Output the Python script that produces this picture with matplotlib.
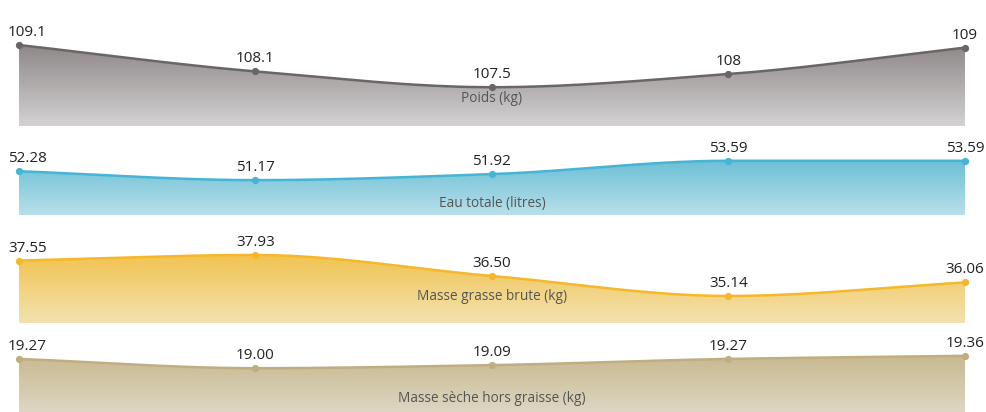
import numpy as np
import matplotlib
matplotlib.use("Agg")
import matplotlib.pyplot as plt
from matplotlib.colors import LinearSegmentedColormap
from matplotlib.patches import Polygon

# ---------------- data ----------------
visits = [0, 1, 2, 3, 4]
poids = [109.1, 108.1, 107.5, 108.0, 109.0]
poids_labels = ["109.1", "108.1", "107.5", "108", "109"]
eau = [52.28, 51.17, 51.92, 53.59, 53.59]
eau_labels = ["52.28", "51.17", "51.92", "53.59", "53.59"]
grasse = [37.55, 37.93, 36.50, 35.14, 36.06]
grasse_labels = ["37.55", "37.93", "36.50", "35.14", "36.06"]
seche = [19.27, 19.00, 19.09, 19.27, 19.36]
seche_labels = ["19.27", "19.00", "19.09", "19.27", "19.36"]
titles = ["Poids (kg)", "Eau totale (litres)",
          "Masse grasse brute (kg)", "Masse sèche hors graisse (kg)"]

# ---------------- style / layout ----------------
W, H = 986, 412
plt.rcParams['font.family'] = ['Open Sans', 'DejaVu Sans']

panels = [
    # values, labels, (top px, bottom px), ylim, line colour, fill top, fill bottom, title y frac
    (poids, poids_labels, (16, 126), (106.03, 110.20), "#6b6566", "#8e8889", "#d4d2d2", 0.215),
    (eau, eau_labels, (140, 215), (46.81, 56.185), "#46b5d3", "#6cc0d7", "#b8dfe9", 0.105),
    (grasse, grasse_labels, (235, 323), (33.30, 39.29), "#f6b82a", "#f1c350", "#f3e2b0", 0.26),
    (seche, seche_labels, (335, 412), (17.727, 19.965), "#bfae82", "#c8b990", "#ddd6c2", 0.13),
]


def monotone_cubic(x, y, n=300):
    x = np.asarray(x, float)
    y = np.asarray(y, float)
    h = np.diff(x)
    d = np.diff(y) / h
    m = np.zeros_like(y)
    m[0], m[-1] = d[0], d[-1]
    for i in range(1, len(y) - 1):
        if d[i - 1] * d[i] <= 0:
            m[i] = 0.0
        else:
            w1 = 2 * h[i] + h[i - 1]
            w2 = h[i] + 2 * h[i - 1]
            m[i] = (w1 + w2) / (w1 / d[i - 1] + w2 / d[i])
    xs = np.linspace(x[0], x[-1], n)
    ys = np.empty_like(xs)
    for k, xv in enumerate(xs):
        i = min(np.searchsorted(x, xv, side='right') - 1, len(x) - 2)
        t = (xv - x[i]) / h[i]
        h00 = 2 * t**3 - 3 * t**2 + 1
        h10 = t**3 - 2 * t**2 + t
        h01 = -2 * t**3 + 3 * t**2
        h11 = t**3 - t**2
        ys[k] = h00 * y[i] + h10 * h[i] * m[i] + h01 * y[i + 1] + h11 * h[i] * m[i + 1]
    return xs, ys


fig = plt.figure(figsize=(W / 100, H / 100), dpi=100)
left = 19 / W
width = (965 - 19) / W

for (vals, labs, (tp, bp), ylim, lc, ftop, fbot, ty), title in zip(panels, titles):
    ax = fig.add_axes([left, 1 - bp / H, width, (bp - tp) / H])
    ax.set_xlim(visits[0], visits[-1])
    ax.set_ylim(*ylim)
    ax.axis('off')

    xs, ys = monotone_cubic(visits, vals)
    verts = np.column_stack([np.r_[xs, xs[-1], xs[0]], np.r_[ys, ylim[0], ylim[0]]])
    poly = Polygon(verts, closed=True, facecolor='none', edgecolor='none')
    ax.add_patch(poly)
    cmap = LinearSegmentedColormap.from_list('g', [fbot, ftop])
    grad = np.linspace(0, 1, 256).reshape(-1, 1)
    im = ax.imshow(grad, extent=[xs[0], xs[-1], ylim[0], ys.max()], origin='lower',
                   aspect='auto', cmap=cmap, interpolation='bicubic', zorder=1)
    im.set_clip_path(poly)

    ax.plot(xs, ys, color=lc, lw=1.8, zorder=3, solid_capstyle='round', clip_on=False)
    ax.plot(visits, vals, 'o', color=lc, ms=4.2, zorder=4, clip_on=False)

    for i, (xv, yv, lab) in enumerate(zip(visits, vals, labs)):
        if i == 0:
            ax.annotate(lab, (xv, yv), xytext=(-11, 9), textcoords='offset pixels',
                        ha='left', va='baseline', fontsize=11, color='#222222',
                        annotation_clip=False)
        else:
            ax.annotate(lab, (xv, yv), xytext=(0, 9), textcoords='offset pixels',
                        ha='center', va='baseline', fontsize=11, color='#222222',
                        annotation_clip=False)

    ax.text(0.5, ty, title, transform=ax.transAxes, ha='center', va='baseline',
            fontsize=9.8, color='#555555', zorder=5)

fig.savefig('out.png', dpi=100)
